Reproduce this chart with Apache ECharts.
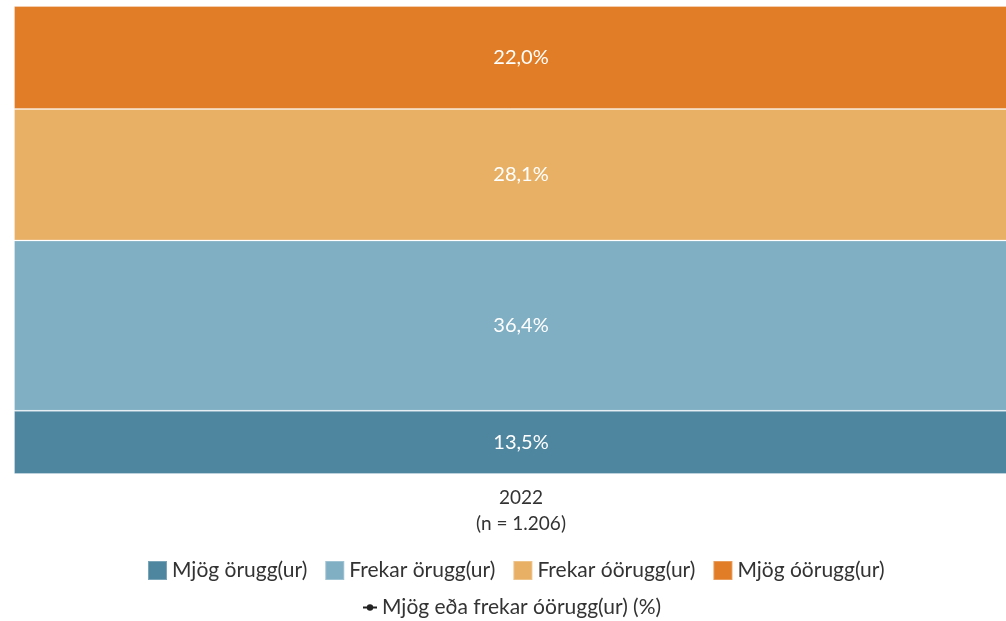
<!DOCTYPE html>
<html>
<head>
<meta charset="utf-8">
<script src="https://cdn.jsdelivr.net/npm/echarts@6/dist/echarts.min.js"></script>
<style>
  html, body { margin: 0; padding: 0; background: #fff; }
  #chart { width: 1006px; height: 621px; }
</style>
</head>
<body>
<div id="chart"></div>
<script>
// Survey year and sample size
const categories = ['2022\n(n = 1.206)'];

// Share of respondents per answer (%)
const mjogOrugg = [13.5];
const frekarOrugg = [36.4];
const frekarOorugg = [28.1];
const mjogOorugg = [22.0];
// Combined "very or somewhat unsafe" (%)
const mjogEdaFrekarOorugg = [50.1];

const seriesNames = ['Mjög örugg(ur)', 'Frekar örugg(ur)', 'Frekar óörugg(ur)', 'Mjög óörugg(ur)'];
const seriesData = [mjogOrugg, frekarOrugg, frekarOorugg, mjogOorugg];
const colors = ['#4e86a0', '#80afc4', '#e8b065', '#e07d26'];
const lineName = 'Mjög eða frekar óörugg(ur) (%)';

const fontFamily = 'Lato, "Open Sans", sans-serif';
const fmt = v => v.toFixed(1).replace('.', ',') + '%';

const chart = echarts.init(document.getElementById('chart'));

const barSeries = seriesNames.map((name, i) => ({
  name,
  type: 'bar',
  stack: 'total',
  barWidth: '100%',
  data: seriesData[i],
  itemStyle: {
    color: colors[i],
    borderColor: 'rgba(255,255,255,0.25)',
    borderWidth: 1
  },
  label: {
    show: true,
    position: 'inside',
    color: '#fff',
    fontSize: 20,
    fontFamily,
    formatter: p => fmt(p.value)
  },
  emphasis: { disabled: true }
}));

chart.setOption({
  animation: false,
  color: colors.concat(['#222']),
  grid: {
    left: 14, top: 6, height: 468, width: 1014,
    containLabel: false,
    outerBoundsMode: 'none'
  },
  xAxis: {
    type: 'category',
    data: categories,
    axisLine: { show: false },
    axisTick: { show: false },
    axisLabel: {
      color: '#333',
      fontSize: 19,
      fontFamily,
      lineHeight: 26,
      margin: 11
    }
  },
  yAxis: {
    type: 'value',
    min: 0,
    max: 100,
    show: false,
    splitLine: { show: false }
  },
  legend: [
    {
      data: seriesNames,
      top: 555,
      left: 142,
      itemWidth: 19,
      itemHeight: 19,
      itemGap: 17,
      icon: 'rect',
      textStyle: { color: '#333', fontSize: 21, fontFamily },
      selectedMode: false
    },
    {
      data: [lineName],
      top: 592,
      left: 357,
      itemWidth: 14,
      itemHeight: 8,
      textStyle: { color: '#333', fontSize: 21, fontFamily },
      selectedMode: false
    }
  ],
  series: barSeries.concat([{
    name: lineName,
    type: 'line',
    data: mjogEdaFrekarOorugg,
    color: '#222',
    symbol: 'circle',
    symbolSize: 6,
    showSymbol: false,
    lineStyle: { color: '#222', width: 2 },
    itemStyle: { color: '#222' },
    label: { show: false }
  }])
});
</script>
</body>
</html>
